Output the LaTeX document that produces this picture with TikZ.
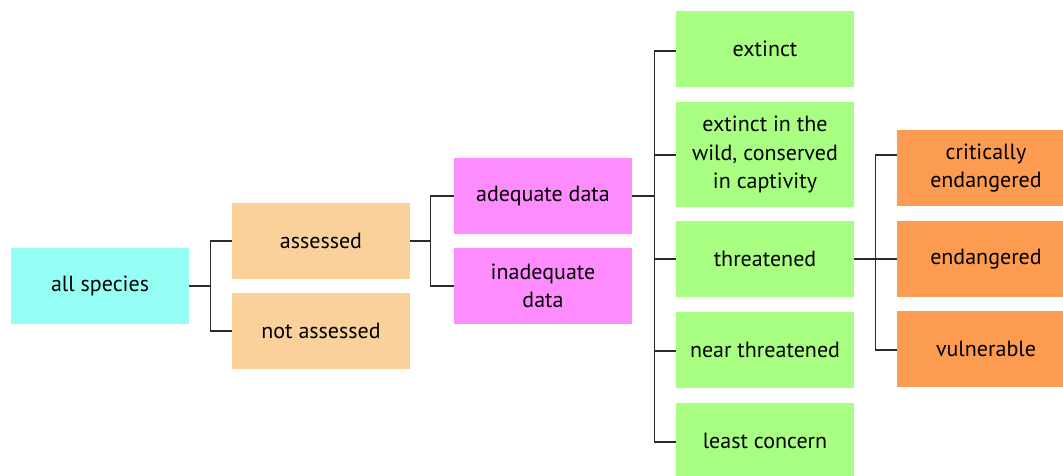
\documentclass[tikz,border=0pt]{standalone}
\usepackage{fontspec}
\setmainfont{PT Sans}
\definecolor{cyanbox}{HTML}{96FFF5}
\definecolor{peachbox}{HTML}{FBD19B}
\definecolor{pinkbox}{HTML}{FF8CFF}
\definecolor{greenbox}{HTML}{A8FF82}
\definecolor{orangebox}{HTML}{FD9C50}
\definecolor{linegrey}{HTML}{2A2A2A}
\begin{document}
\begin{tikzpicture}[x=1pt,y=-1pt,
  box/.style={rectangle, inner sep=0pt, minimum width=178pt, minimum height=76pt,
    align=center, font=\fontsize{22}{28.5}\selectfont, text=black},
  conn/.style={draw=linegrey, line width=1.4pt}]
\useasboundingbox (0,0) rectangle (1063,476);
\clip (0,0) rectangle (1063,476);
\node[box, fill=cyanbox] (all) at (100,286) {all species};
\node[box, fill=peachbox] (ass) at (321,241) {assessed};
\node[box, fill=peachbox] (nass) at (321,331) {not assessed};
\node[box, fill=pinkbox] (adq) at (543,196) {adequate data};
\node[box, fill=pinkbox] (inadq) at (543,286) {inadequate\\data};
\node[box, fill=greenbox] (ext) at (765,49) {extinct};
\node[box, fill=greenbox, minimum height=105pt] (extw) at (765,154.5) {extinct in the\\wild, conserved\\in captivity};
\node[box, fill=greenbox] (thr) at (765,259) {threatened};
\node[box, fill=greenbox] (near) at (765,350) {near threatened};
\node[box, fill=greenbox] (least) at (765,441) {least concern};
\node[box, fill=orangebox] (crit) at (986,168) {critically\\endangered};
\node[box, fill=orangebox] (end) at (986,259) {endangered};
\node[box, fill=orangebox] (vul) at (986,349) {vulnerable};

\draw[conn] (all.east) -- ++(21,0) |- (ass.west);
\draw[conn] (all.east) -- ++(21,0) |- (nass.west);
\draw[conn] (ass.east) -- ++(20,0) |- (adq.west);
\draw[conn] (ass.east) -- ++(20,0) |- (inadq.west);
\foreach \t/\y in {ext/51,extw/155,thr/259,near/351,least/442}
  \draw[conn] (adq.east) -- ++(22,0) |- (\t.west |- 0,\y);
\foreach \t/\y in {crit/155,end/259,vul/350}
  \draw[conn] (thr.east) -- ++(21,0) |- (\t.west |- 0,\y);
\end{tikzpicture}
\end{document}
